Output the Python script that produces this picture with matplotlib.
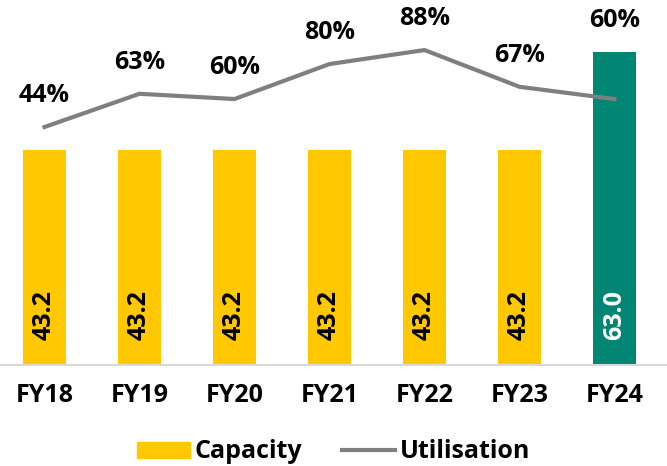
import matplotlib.pyplot as plt
from matplotlib.patches import Patch
from matplotlib.lines import Line2D

# Data
years = ["FY18", "FY19", "FY20", "FY21", "FY22", "FY23", "FY24"]
capacity = [43.2, 43.2, 43.2, 43.2, 43.2, 43.2, 63.0]
utilisation = [44, 63, 60, 80, 88, 67, 60]

yellow = "#FFC800"
green = "#008673"
grey = "#7F7F7F"
font = "Open Sans"
fs = 18

fig = plt.figure(figsize=(6.67, 4.66), dpi=100)
ax = fig.add_axes([0, 1 - 365 / 466, 1, 365 / 466])

x = list(range(len(years)))
colors = [yellow] * 6 + [green]
ax.bar(x, capacity, width=0.45, color=colors, zorder=2)

# value labels inside bars
for i, v in enumerate(capacity):
    txt_color = "white" if i == len(capacity) - 1 else "black"
    ax.text(i, 5, f"{v:.1f}", rotation=90, ha="center", va="bottom",
            fontsize=fs, fontweight="bold", color=txt_color, family=font)

ax.set_xlim(-44.5 / 95, (667 - 44.5) / 95)
ax.set_ylim(0, 73.4)
ax.set_yticks([])
ax.set_xticks(x)
ax.set_xticklabels(years, fontsize=fs, fontweight="bold", family=font)
ax.tick_params(axis="x", length=0, pad=13)
for s in ["top", "left", "right"]:
    ax.spines[s].set_visible(False)
ax.spines["bottom"].set_color("#D9D9D9")
ax.spines["bottom"].set_linewidth(1.5)

# Utilisation line on second axis
ax2 = ax.twinx()
ax2.plot(x, utilisation, color=grey, linewidth=3, zorder=3)
ax2.set_ylim(-92, 116.6)
ax2.set_yticks([])
for s in ax2.spines.values():
    s.set_visible(False)

for i, v in enumerate(utilisation):
    off = 52 if i == len(utilisation) - 1 else 18
    ax2.annotate(f"{v}%", (i, v), xytext=(0, off), textcoords="offset points",
                 ha="center", va="baseline", fontsize=fs, fontweight="bold",
                 family=font)

handles = [Patch(color=yellow), Line2D([0], [0], color=grey, linewidth=3)]
fig.legend(handles, ["Capacity", "Utilisation"], loc="lower center",
           bbox_to_anchor=(0.5, -0.045), ncol=2, frameon=False,
           handlelength=2.1, handleheight=0.6, handletextpad=0.2,
           columnspacing=1.6,
           prop={"family": font, "weight": "bold", "size": fs})

fig.savefig("out.png", dpi=100)
